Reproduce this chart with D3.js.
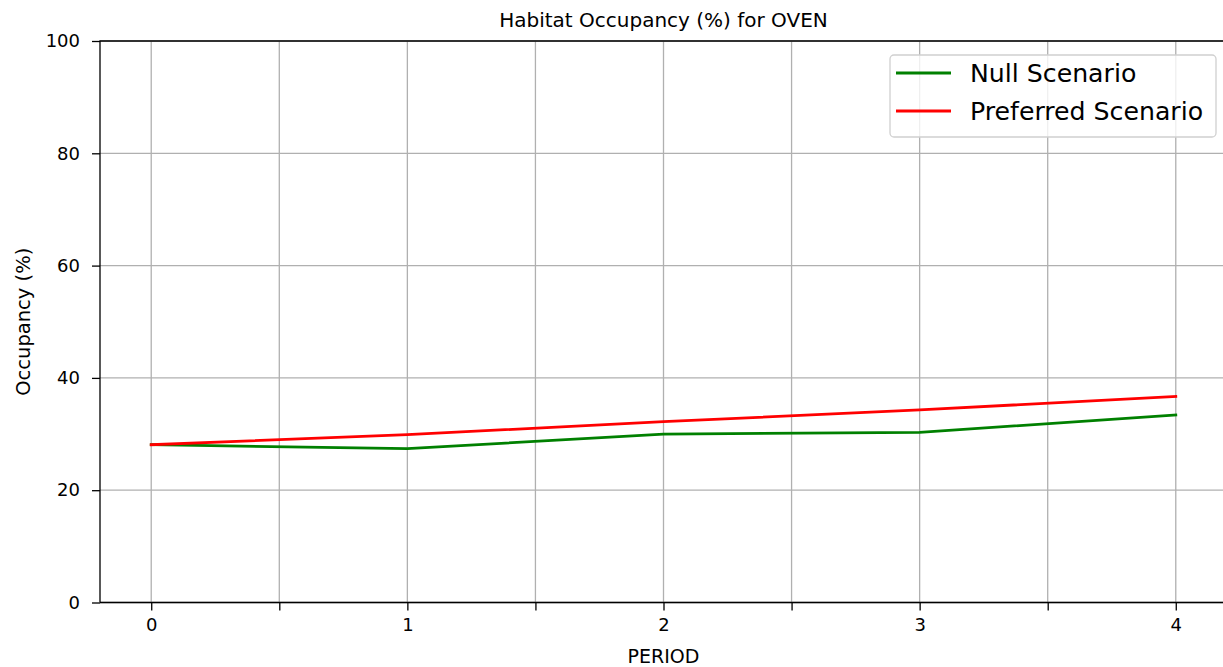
<!DOCTYPE html>
<html>

<head>
  <meta charset='utf-8'>
  <style>
    body { margin: 0; background: #fff; }
    svg { display: block; font-family: "DejaVu Sans", sans-serif; }
  </style>
  <script type="text/javascript" src="https://cdn.jsdelivr.net/npm/d3@7"></script>
</head>

<body>
  <script type='module'>
    const periods = [0, 1, 2, 3, 4]
    const nullScenario = [28.1, 27.4, 30.0, 30.3, 33.4]
    const preferredScenario = [28.1, 29.9, 32.2, 34.3, 36.7]
    const xTicks = [0, 0.5, 1, 1.5, 2, 2.5, 3, 3.5, 4]
    const yTicks = [0, 20, 40, 60, 80, 100]
    const seriesNames = ["Null Scenario", "Preferred Scenario"]
    const seriesColors = ["green", "red"]

    let [width, height] = [1223, 667]
    const margin = { left: 100, right: 1227, top: 41, bottom: 602.5 }

    const svg = d3.select("body").append("svg")
      .attr("width", width).attr("height", height)
      .attr("viewBox", [0, 0, width, height]);

    const x = d3.scaleLinear().domain([-0.2, 4.2]).range([margin.left, margin.right])
    const y = d3.scaleLinear().domain([0, 100]).range([margin.bottom, margin.top])

    // grid
    const grid = svg.append("g").attr("stroke", "#b0b0b0").attr("stroke-width", 1.3)
    grid.selectAll(".gx").data(xTicks).join("line")
      .attr("x1", d => x(d)).attr("x2", d => x(d))
      .attr("y1", margin.top).attr("y2", margin.bottom)
    grid.selectAll(".gy").data(yTicks).join("line")
      .attr("y1", d => y(d)).attr("y2", d => y(d))
      .attr("x1", margin.left).attr("x2", margin.right)

    // lines
    const series = [nullScenario, preferredScenario]
    const line = d3.line().x((d, i) => x(periods[i])).y(d => y(d))
    svg.append("g").selectAll("path").data(series).join("path")
      .attr("d", d => line(d))
      .attr("fill", "none")
      .attr("stroke", (d, i) => seriesColors[i])
      .attr("stroke-width", 2.8)
      .attr("stroke-linecap", "square")

    // axes
    const xAxis = svg.append("g").attr("transform", `translate(0,${margin.bottom})`)
      .call(d3.axisBottom(x).tickValues(xTicks).tickSize(8).tickPadding(8)
        .tickFormat(d => Number.isInteger(d) ? d : ""))
    const yAxis = svg.append("g").attr("transform", `translate(${margin.left},0)`)
      .call(d3.axisLeft(y).tickValues(yTicks).tickSize(8).tickPadding(12))
    for (const g of [xAxis, yAxis]) {
      g.select(".domain").remove()
      g.selectAll(".tick line").attr("stroke", "#000").attr("stroke-width", 1.3)
      g.selectAll(".tick text").attr("fill", "#000").attr("font-size", 18)
        .attr("font-family", "DejaVu Sans")
    }

    // spines
    svg.append("path")
      .attr("d", `M${margin.left},${margin.bottom}V${margin.top}H${margin.right}M${margin.left},${margin.bottom}H${margin.right}`)
      .attr("fill", "none").attr("stroke", "#000").attr("stroke-width", 1.3)

    // titles
    svg.append("text").attr("x", (margin.left + margin.right) / 2).attr("y", 27)
      .attr("text-anchor", "middle").attr("font-size", 20).text("Habitat Occupancy (%) for OVEN")
    svg.append("text").attr("x", (margin.left + margin.right) / 2).attr("y", 663)
      .attr("text-anchor", "middle").attr("font-size", 19).text("PERIOD")
    svg.append("text").attr("transform", `translate(30,${(margin.top + margin.bottom) / 2}) rotate(-90)`)
      .attr("text-anchor", "middle").attr("font-size", 19.5).text("Occupancy (%)")

    // legend
    const legend = svg.append("g")
    legend.append("rect").attr("x", 890).attr("y", 55).attr("width", 326).attr("height", 82)
      .attr("rx", 4).attr("fill", "#fff").attr("fill-opacity", 0.8)
      .attr("stroke", "#d0d0d0").attr("stroke-width", 1.3)
    const items = legend.selectAll(".item").data(seriesNames).join("g")
      .attr("transform", (d, i) => `translate(0,${73 + i * 38})`)
    items.append("line").attr("x1", 896).attr("x2", 951)
      .attr("stroke", (d, i) => seriesColors[i]).attr("stroke-width", 2.8)
    items.append("text").attr("x", 970).attr("dy", "0.35em").attr("font-size", 25.2)
      .attr("fill", "#000").text(d => d)
  </script>
</body>

</html>
